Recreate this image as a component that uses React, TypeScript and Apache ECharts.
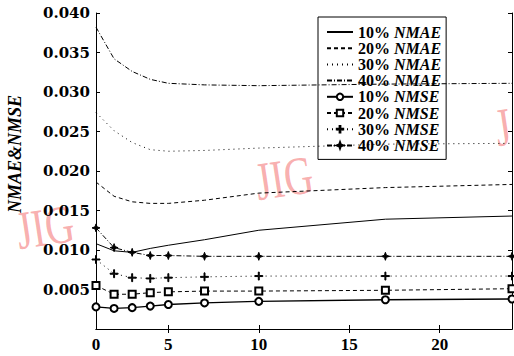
import React, { useEffect, useRef } from "react";
import * as echarts from "echarts";

const xValues = [1, 2, 3, 4, 5, 7, 10, 17, 24];
const xTickValues = [5, 10, 15, 20];
const xLabelValues = [1, 5, 10, 15, 20];

const nmae10 = [0.0108, 0.0099, 0.0097, 0.0102, 0.0106, 0.0113, 0.0125, 0.0139, 0.0143];
const nmae20 = [0.0186, 0.0168, 0.0161, 0.0159, 0.0159, 0.0163, 0.0172, 0.0179, 0.0183];
const nmae30 = [0.0274, 0.0251, 0.0236, 0.0227, 0.0225, 0.0226, 0.0229, 0.0234, 0.0235];
const nmae40 = [0.0382, 0.0342, 0.0326, 0.0316, 0.0311, 0.0309, 0.0308, 0.031, 0.0311];
const nmse10 = [0.0028, 0.0026, 0.0027, 0.0029, 0.0031, 0.0033, 0.0035, 0.0037, 0.0038];
const nmse20 = [0.0055, 0.0044, 0.0044, 0.0046, 0.0047, 0.0048, 0.0048, 0.0049, 0.0051];
const nmse30 = [0.0088, 0.007, 0.0065, 0.0064, 0.0065, 0.0066, 0.0067, 0.0067, 0.0067];
const nmse40 = [0.0128, 0.0103, 0.0097, 0.0093, 0.0093, 0.0092, 0.0092, 0.0092, 0.0092];

const seriesNames = [
  "10% NMAE",
  "20% NMAE",
  "30% NMAE",
  "40% NMAE",
  "10% NMSE",
  "20% NMSE",
  "30% NMSE",
  "40% NMSE",
];
const seriesValues = [nmae10, nmae20, nmae30, nmae40, nmse10, nmse20, nmse30, nmse40];
const yAxisTitle = "NMAE&NMSE";

const plusPath = "path://M4.4,0 H5.6 V4.4 H10 V5.6 H5.6 V10 H4.4 V5.6 H0 V4.4 H4.4 Z";
const starPath = "path://M5,0 L6.3,3.7 L10,5 L6.3,6.3 L5,10 L3.7,6.3 L0,5 L3.7,3.7 Z";

const dashTypes: any[] = ["solid", [4, 3], [1, 4], [5, 2, 1, 2], "solid", [4, 3], [1, 4], [5, 2, 1, 2]];
const symbols = ["none", "none", "none", "none", "emptyCircle", "emptyRect", plusPath, starPath];
const symbolSizes = [0, 0, 0, 0, 7, 7, 8, 8];
const lineWidths = [1, 1, 1, 1, 1.3, 1, 1, 1];

const serif = '"Liberation Serif", serif';
const dejavuSerif = '"DejaVu Serif", serif';
const wmFill = "rgba(245,130,130,0.65)";

export default function App() {
  const ref = useRef<HTMLDivElement>(null);
  useEffect(() => {
    if (!ref.current) return;
    const chart = echarts.init(ref.current, undefined, { renderer: "svg" });
    const axisLine = { show: true, lineStyle: { color: "#000", width: 1 } };
    const series = seriesNames.map((name, i) => ({
      name,
      type: "line",
      data: xValues.map((x, j) => [x, seriesValues[i][j]]),
      symbol: symbols[i],
      symbolSize: symbolSizes[i],
      showSymbol: symbols[i] !== "none",
      itemStyle: { color: "#000", borderColor: "#000", borderWidth: 1 },
      lineStyle: { color: "#000", width: lineWidths[i], type: dashTypes[i] },
      z: 3,
    }));
    const legendData = seriesNames.map((name, i) =>
      symbols[i] === "none" ? { name, itemStyle: { opacity: 0 } } : { name }
    );
    const wm = (text: string, x: number, y: number) => ({
      type: "text",
      x,
      y,
      rotation: 0.15,
      scaleY: 1.35,
      z: 0,
      silent: true,
      style: {
        text,
        fill: wmFill,
        font: `40px "Liberation Serif"`,
        align: "center",
        verticalAlign: "middle",
      },
    });
    const option: any = {
      animation: false,
      backgroundColor: "#fff",
      grid: { left: 96, right: 2, top: 13, bottom: 27, containLabel: false },
      xAxis: [
        {
          type: "value",
          min: 1,
          max: 24,
          position: "bottom",
          axisLine,
          axisTick: { inside: true, length: 4, customValues: xTickValues, lineStyle: { color: "#000" } },
          axisLabel: {
            customValues: xLabelValues,
            formatter: (v: number) => (v === 1 ? "0" : String(v)),
            color: "#000",
            fontFamily: serif,
            fontWeight: "bold",
            fontSize: 17,
            margin: 7,
          },
          splitLine: { show: false },
        },
        {
          type: "value",
          min: 1,
          max: 24,
          position: "top",
          axisLine,
          axisTick: { inside: true, length: 4, customValues: xTickValues, lineStyle: { color: "#000" } },
          axisLabel: { show: false },
          splitLine: { show: false },
        },
      ],
      yAxis: [
        {
          type: "value",
          min: 0,
          max: 0.04,
          interval: 0.005,
          position: "left",
          axisLine,
          axisTick: { inside: true, length: 4, lineStyle: { color: "#000" } },
          axisLabel: {
            formatter: (v: number) => (v === 0 ? "" : v.toFixed(3)),
            color: "#000",
            fontFamily: dejavuSerif,
            fontWeight: "bold",
            fontSize: 15,
            margin: 6,
          },
          splitLine: { show: false },
        },
        {
          type: "value",
          min: 0,
          max: 0.04,
          interval: 0.005,
          position: "right",
          axisLine,
          axisTick: { inside: true, length: 4, lineStyle: { color: "#000" } },
          axisLabel: { show: false },
          splitLine: { show: false },
        },
      ],
      legend: {
        orient: "vertical",
        left: 318,
        top: 17,
        padding: [7, 5, 6, 8],
        borderColor: "#000",
        borderWidth: 1,
        itemWidth: 26,
        itemHeight: 8,
        itemGap: 0.2,
        data: legendData,
        formatter: (name: string) => {
          const [p, n] = name.split(" ");
          return `{p|${p}} {n|${n}}`;
        },
        textStyle: {
          color: "#000",
          fontFamily: serif,
          fontSize: 16,
          rich: {
            p: { fontFamily: serif, fontSize: 16, fontWeight: "bold", color: "#000" },
            n: {
              fontFamily: serif,
              fontSize: 16,
              fontWeight: "bold",
              fontStyle: "italic",
              color: "#000",
            },
          },
        },
      },
      graphic: [
        wm("JIG", 45, 227),
        wm("JIG", 284, 178),
        wm("J", 503, 127),
        {
          type: "text",
          x: 15,
          y: 154,
          rotation: Math.PI / 2,
          z: 5,
          silent: true,
          style: {
            text: yAxisTitle,
            fill: "#000",
            font: `italic bold 18px "Liberation Serif"`,
            align: "center",
            verticalAlign: "middle",
          },
        },
      ],
      series,
    };
    chart.setOption(option);
    return () => chart.dispose();
  }, []);
  return (
    <div
      ref={ref}
      style={{ position: "fixed", left: 0, top: 0, width: 514, height: 356, background: "#fff" }}
    />
  );
}
